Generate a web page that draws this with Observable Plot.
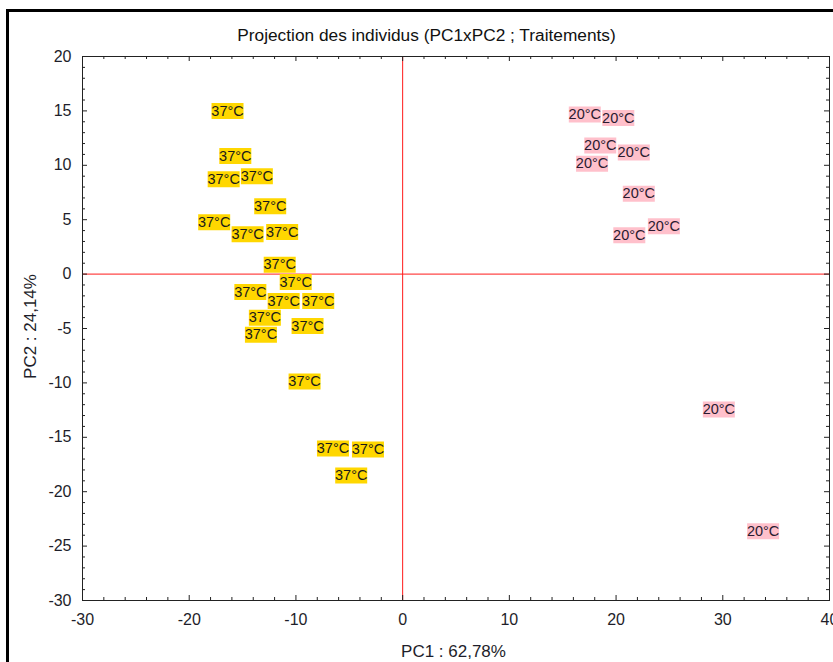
<!DOCTYPE html>
<html>
<head>
<meta charset="utf-8">
<script src="https://cdn.jsdelivr.net/npm/d3@7"></script>
<script src="https://cdn.jsdelivr.net/npm/@observablehq/plot@0.6"></script>
<style>
  html, body { margin: 0; padding: 0; background: #fff; overflow: hidden; }
  #wrap { position: relative; width: 833px; height: 662px; }
  #border { position: absolute; left: 6px; top: 9px; width: 900px; height: 700px;
            border-left: 3px solid #000; border-top: 3px solid #000; pointer-events: none; }
</style>
</head>
<body>
<div id="wrap"><div id="border"></div></div>
<script>
// Principal component scores, treatment 37°C
const temp37X = [-16.41, -15.68, -16.77, -13.66, -12.41, -17.66, -14.53, -11.29, -11.52, -10.02,
                 -14.27, -11.15, -7.91, -12.91, -13.28, -8.91, -9.19, -6.53, -3.25, -4.82];
const temp37Y = [14.98, 10.86, 8.72, 9.00, 6.24, 4.77, 3.66, 3.87, 0.86, -0.73,
                 -1.65, -2.47, -2.47, -4.01, -5.58, -4.77, -9.88, -16.04, -16.12, -18.51];
// Principal component scores, treatment 20°C
const temp20X = [17.07, 20.21, 18.52, 21.66, 17.75, 22.13, 24.48, 21.24, 29.63, 33.78];
const temp20Y = [14.66, 14.34, 11.81, 11.17, 10.15, 7.39, 4.40, 3.58, -12.44, -23.63];

// Axis ticks
const xMajor = [-30, -20, -10, 0, 10, 20, 30, 40];
const yMajor = [-30, -25, -20, -15, -10, -5, 0, 5, 10, 15, 20];
const xMinor = d3.range(-30, 41, 2).filter(v => v % 10 !== 0);
const yMinor = d3.range(-30, 21, 1).filter(v => v % 5 !== 0);

const titleText = "Projection des individus (PC1xPC2 ; Traitements)";
const xLabel = "PC1 : 62,78%";
const yLabel = "PC2 : 24,14%";

const pts37 = temp37X.map((x, i) => ({x, y: temp37Y[i], label: "37°C"}));
const pts20 = temp20X.map((x, i) => ({x, y: temp20Y[i], label: "20°C"}));

const W = 833, H = 662;
const mL = 82, mR = 4, mT = 56, mB = 62;
const plotW = W - mL - mR, plotH = H - mT - mB;
const font = "'Liberation Sans', Arial, sans-serif";

// label background: fixed-size box centred on the point
const box = {draw(ctx) { ctx.rect(-16, -8, 32, 16); }};
// plain hyphen for negative tick values
const fmt = d => `${d}`;

const chart = Plot.plot({
  width: W,
  height: H,
  marginLeft: mL, marginRight: mR, marginTop: mT, marginBottom: mB,
  style: {fontFamily: font, fontSize: "16px", color: "#1e1e2a", background: "transparent"},
  x: {domain: [-30, 40], ticks: xMajor, tickFormat: fmt, tickSize: 0, tickPadding: 13, label: null},
  y: {domain: [-30, 20], ticks: yMajor, tickFormat: fmt, tickSize: 0, tickPadding: 11, label: null},
  marks: [
    // reference lines through the origin
    Plot.ruleX([0], {stroke: "#ff1a1a", strokeWidth: 1}),
    Plot.ruleY([0], {stroke: "#ff1a1a", strokeWidth: 1}),
    // inward ticks on all four sides
    Plot.tickX(xMajor, {x: d => d, insetTop: plotH - 5, stroke: "#222"}),
    Plot.tickX(xMinor, {x: d => d, insetTop: plotH - 3, stroke: "#222"}),
    Plot.tickX(xMajor, {x: d => d, insetBottom: plotH - 5, stroke: "#222"}),
    Plot.tickX(xMinor, {x: d => d, insetBottom: plotH - 3, stroke: "#222"}),
    Plot.tickY(yMajor, {y: d => d, insetRight: plotW - 5, stroke: "#222"}),
    Plot.tickY(yMinor, {y: d => d, insetRight: plotW - 3, stroke: "#222"}),
    Plot.tickY(yMajor, {y: d => d, insetLeft: plotW - 5, stroke: "#222"}),
    Plot.tickY(yMinor, {y: d => d, insetLeft: plotW - 3, stroke: "#222"}),
    Plot.frame({stroke: "#222", strokeWidth: 1}),
    // labelled individuals
    Plot.dot(pts37, {x: "x", y: "y", symbol: box, fill: "#ffd700", stroke: null}),
    Plot.text(pts37, {x: "x", y: "y", text: "label", fontSize: 14.5, fill: "#1a1a1a"}),
    Plot.dot(pts20, {x: "x", y: "y", symbol: box, fill: "#ffc0cb", stroke: null}),
    Plot.text(pts20, {x: "x", y: "y", text: "label", fontSize: 14.5, fill: "#2a1a30"}),
    // titles
    Plot.text([titleText], {frameAnchor: "top-left", lineAnchor: "middle", dx: 426 - mL, dy: -21, textAnchor: "middle", fontSize: 17.3, fill: "#111"}),
    Plot.text([xLabel], {frameAnchor: "bottom-left", lineAnchor: "middle", dx: 453 - mL, dy: 51, textAnchor: "middle", fontSize: 17, fill: "#1e1e2a"}),
    Plot.text([yLabel], {frameAnchor: "left", lineAnchor: "middle", dx: 30 - mL, dy: -2, rotate: -90, textAnchor: "middle", fontSize: 17, fill: "#1e1e2a"})
  ]
});
document.getElementById("wrap").prepend(chart);
</script>
</body>
</html>
